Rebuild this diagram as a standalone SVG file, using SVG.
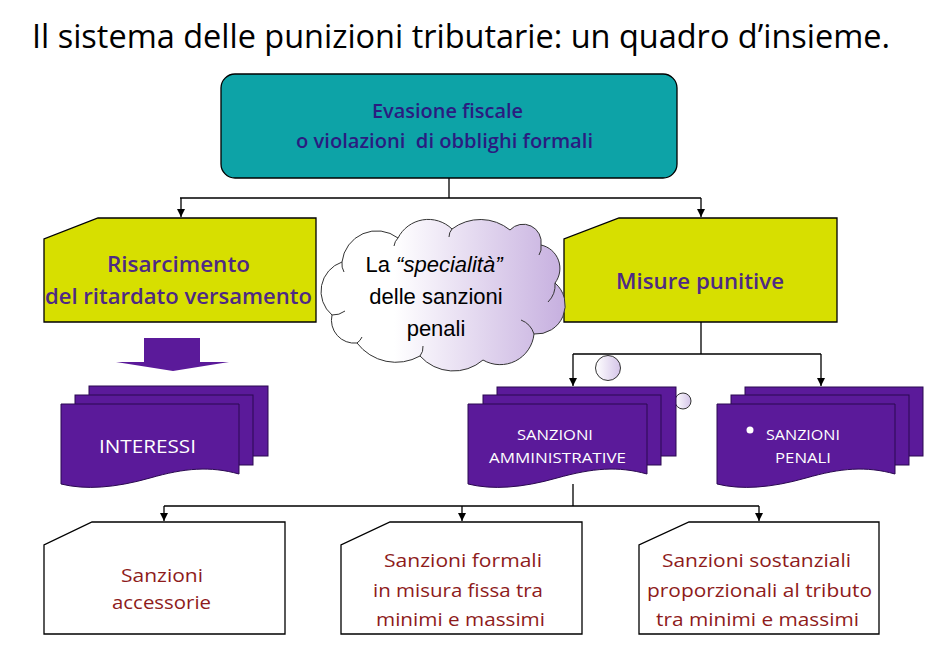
<svg xmlns="http://www.w3.org/2000/svg" width="932" height="648" viewBox="0 0 932 648">
<defs>
<style>
.cal{font-family:"Open Sans","Noto Sans","DejaVu Sans",sans-serif}
.title{font-size:32px;fill:#000}
.top{font-size:19px;fill:#2a1c80;font-weight:600}
.yel{font-size:22px;fill:#4e2a84;font-weight:600}
.cloudt{font-family:"Liberation Sans",Arial,sans-serif;font-size:22px;fill:#000}
.doc{fill:#5b1a9a;stroke:#2a0850;stroke-width:1}
.wt{fill:#fff}
.bot{font-size:18px;fill:#8e1b1b}
.line{fill:none;stroke:#000;stroke-width:1.3}
.wbox{fill:#fff;stroke:#000;stroke-width:1.3}
.ybox{fill:#d7df00;stroke:#000;stroke-width:1.3}
</style>
<marker id="ah" viewBox="0 0 10 10" refX="10" refY="5" markerWidth="8" markerHeight="8" markerUnits="userSpaceOnUse" orient="auto">
<path d="M0,0 L10,5 L0,10 Z" fill="#000"/>
</marker>
<linearGradient id="cg" x1="0" y1="0" x2="1" y2="0">
<stop offset="0.3" stop-color="#ffffff"/>
<stop offset="1" stop-color="#c6afdf"/>
</linearGradient>
<linearGradient id="bg" x1="0" y1="0" x2="1" y2="0">
<stop offset="0" stop-color="#ffffff"/>
<stop offset="1" stop-color="#d4c4e8"/>
</linearGradient>
</defs>
<rect width="932" height="648" fill="#fff"/>

<text class="cal title" x="32" y="48" textLength="858" lengthAdjust="spacingAndGlyphs">Il sistema delle punizioni tributarie: un quadro d’insieme.</text>

<g id="connectors">
<path class="line" d="M449,178 V198 M180,198 H701"/>
<path class="line" d="M181,198 V217" marker-end="url(#ah)"/>
<path class="line" d="M701,198 V217" marker-end="url(#ah)"/>
<path class="line" d="M701,322 V354 M573,354 H821"/>
<path class="line" d="M573,354 V386" marker-end="url(#ah)"/>
<path class="line" d="M821,354 V386" marker-end="url(#ah)"/>
<path class="line" d="M573,484 V506 M164,506 H759"/>
<path class="line" d="M164,506 V521" marker-end="url(#ah)"/>
<path class="line" d="M462,506 V521" marker-end="url(#ah)"/>
<path class="line" d="M759,506 V521" marker-end="url(#ah)"/>
</g>

<g id="evasione">
<rect x="221" y="74" width="456" height="104" rx="14" fill="#0da3a7" stroke="#000" stroke-width="1.3"/>
<text class="cal top" x="447.5" y="118" text-anchor="middle" textLength="151" lengthAdjust="spacingAndGlyphs">Evasione fiscale</text>
<text class="cal top" x="444.5" y="148" text-anchor="middle" textLength="297" lengthAdjust="spacingAndGlyphs" xml:space="preserve">o violazioni  di obblighi formali</text>
</g>

<g id="risarcimento">
<path class="ybox" d="M98,218 H316 V322 H44 V239 Z"/>
<text class="cal yel" x="178.5" y="272" text-anchor="middle" textLength="143" lengthAdjust="spacingAndGlyphs">Risarcimento</text>
<text class="cal yel" x="178.5" y="304" text-anchor="middle" textLength="267" lengthAdjust="spacingAndGlyphs">del ritardato versamento</text>
</g>

<g id="misure">
<path class="ybox" d="M619,218 H837 V322 H564 V239 Z"/>
<text class="cal yel" x="700" y="289" text-anchor="middle" textLength="168" lengthAdjust="spacingAndGlyphs">Misure punitive</text>
</g>

<g id="cloud">
<path d="M342,262 A35,35 0 0 1 398,238 A34,34 0 0 1 452,229 A47,47 0 0 1 510,230 A18,18 0 0 1 541,245 A24,24 0 0 1 555,283 A29,29 0 0 1 534,334 A34,34 0 0 1 483,360 A45,45 0 0 1 420,356 A49,49 0 0 1 357,343 A23,23 0 0 1 332,315 A31,31 0 0 1 342,262 Z" fill="url(#cg)" stroke="#333" stroke-width="1"/>
<path d="M342,262 A16,16 0 0 0 344,272 M398,238 A14,14 0 0 0 394,246 M452,229 A12,12 0 0 0 449,237 M541,245 A14,14 0 0 1 539,255 M555,283 A24,24 0 0 1 548,302 M534,334 A22,22 0 0 0 521,320 M420,356 A14,14 0 0 0 423,346 M357,343 A14,14 0 0 0 362,337 M332,315 A20,20 0 0 0 345,311" fill="none" stroke="#333" stroke-width="1"/>
<text class="cloudt" x="434" y="272" text-anchor="middle">La <tspan font-style="italic">“specialità”</tspan></text>
<text class="cloudt" x="436" y="304" text-anchor="middle">delle sanzioni</text>
<text class="cloudt" x="436" y="336" text-anchor="middle">penali</text>
<circle cx="608" cy="368" r="12.5" fill="url(#bg)" stroke="#333" stroke-width="1"/>
<circle cx="683" cy="401" r="8" fill="url(#bg)" stroke="#333" stroke-width="1"/>
</g>

<g id="freccia">
<polygon points="144,338 200,338 200,362 229,362 173,371 116,362 144,362" fill="#5b1a9a"/>
</g>

<g id="interessi">
<rect class="doc" x="89" y="386" width="179" height="70"/>
<rect class="doc" x="75" y="395" width="178" height="70"/>
<path class="doc" d="M61,404 H239 V474 C210,466 185,468 150,478 C115,488 85,490 61,484 Z"/>
<text class="cal wt" x="147.5" y="453" font-size="19" text-anchor="middle" textLength="97" lengthAdjust="spacingAndGlyphs">INTERESSI</text>
</g>

<g id="amministrative">
<rect class="doc" x="497" y="387" width="179" height="69"/>
<rect class="doc" x="483" y="395" width="178" height="70"/>
<path class="doc" d="M468,404 H647 V474 C618,466 593,468 557,478 C522,488 492,490 468,484 Z"/>
<text class="cal wt" x="555" y="440" font-size="15" text-anchor="middle" textLength="76" lengthAdjust="spacingAndGlyphs">SANZIONI</text>
<text class="cal wt" x="557.5" y="463" font-size="15" text-anchor="middle" textLength="137" lengthAdjust="spacingAndGlyphs">AMMINISTRATIVE</text>
</g>

<g id="penali">
<rect class="doc" x="745" y="387" width="178" height="69"/>
<rect class="doc" x="731" y="395" width="178" height="70"/>
<path class="doc" d="M717,404 H895 V474 C866,466 841,468 806,478 C771,488 741,490 717,484 Z"/>
<circle cx="750" cy="430" r="3.5" fill="#fff"/>
<text class="cal wt" x="803" y="440" font-size="15" text-anchor="middle" textLength="74" lengthAdjust="spacingAndGlyphs">SANZIONI</text>
<text class="cal wt" x="803" y="463" font-size="15" text-anchor="middle" textLength="56" lengthAdjust="spacingAndGlyphs">PENALI</text>
</g>

<g id="accessorie">
<path class="wbox" d="M92,522 H285 V634 H44 V545 Z"/>
<text class="cal bot" x="162" y="582" text-anchor="middle" textLength="82" lengthAdjust="spacingAndGlyphs">Sanzioni</text>
<text class="cal bot" x="161.5" y="609" text-anchor="middle" textLength="99" lengthAdjust="spacingAndGlyphs">accessorie</text>
</g>

<g id="formali">
<path class="wbox" d="M390,522 H582 V634 H341 V545 Z"/>
<text class="cal bot" x="463" y="567" text-anchor="middle" textLength="158" lengthAdjust="spacingAndGlyphs">Sanzioni formali</text>
<text class="cal bot" x="458" y="597" text-anchor="middle" textLength="170" lengthAdjust="spacingAndGlyphs">in misura fissa tra</text>
<text class="cal bot" x="460.5" y="626" text-anchor="middle" textLength="169" lengthAdjust="spacingAndGlyphs">minimi e massimi</text>
</g>

<g id="sostanziali">
<path class="wbox" d="M689,522 H879 V634 H639 V545 Z"/>
<text class="cal bot" x="756.5" y="567" text-anchor="middle" textLength="189" lengthAdjust="spacingAndGlyphs">Sanzioni sostanziali</text>
<text class="cal bot" x="759.5" y="597" text-anchor="middle" textLength="225" lengthAdjust="spacingAndGlyphs">proporzionali al tributo</text>
<text class="cal bot" x="757.5" y="626" text-anchor="middle" textLength="203" lengthAdjust="spacingAndGlyphs">tra minimi e massimi</text>
</g>
</svg>
